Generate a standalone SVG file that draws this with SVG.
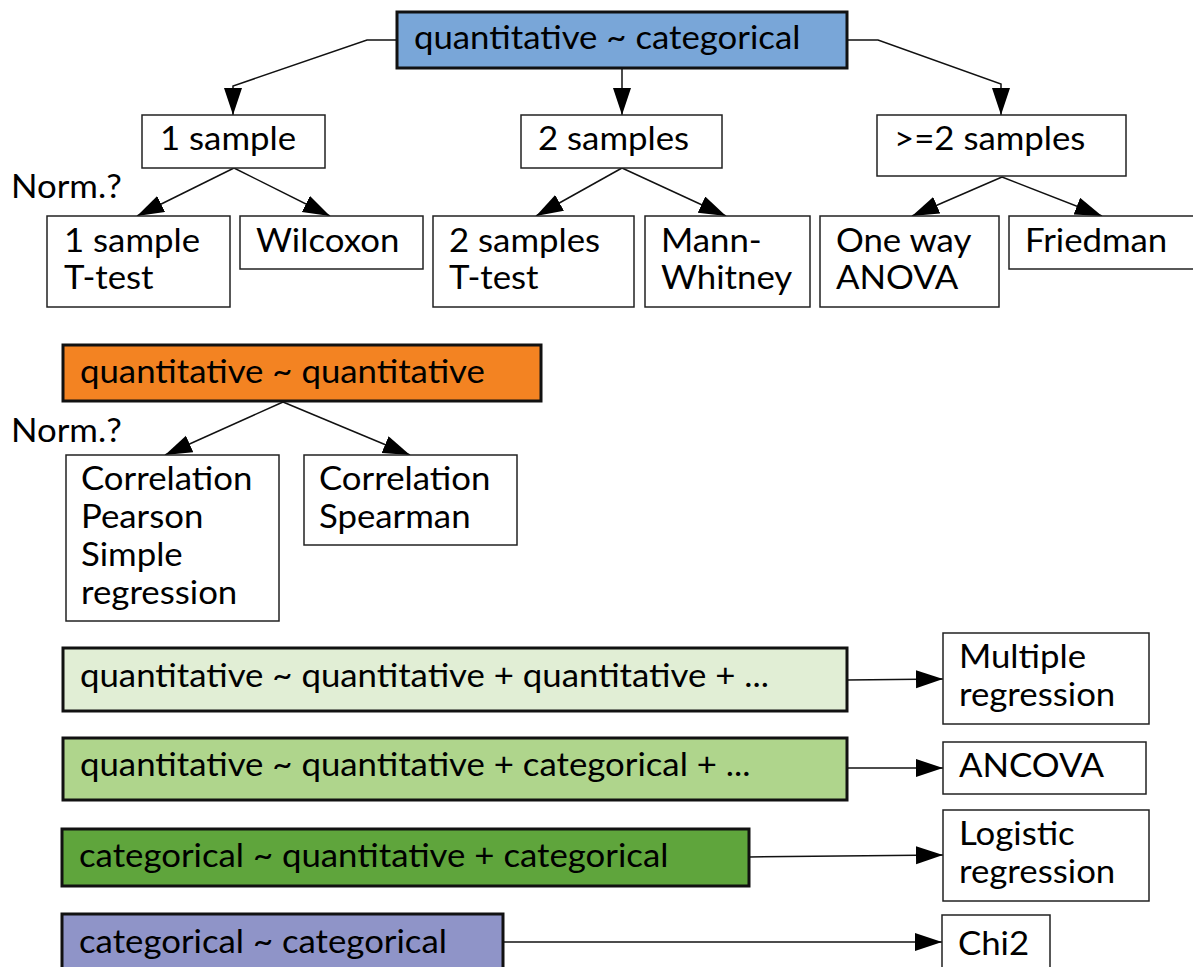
<svg xmlns="http://www.w3.org/2000/svg" width="1193" height="967" viewBox="0 0 1193 967">
<style>
text{font-family:Lato,"Open Sans","Liberation Sans",sans-serif;font-size:32px;fill:#000;transform-box:fill-box;transform-origin:0 0;transform:scaleX(1.087)}
.b{fill:#fff;stroke:#222;stroke-width:1.5}
.h{stroke:#111;stroke-width:3}
.c{fill:none;stroke:#111;stroke-width:1.5;marker-end:url(#a)}
</style>
<defs>
<marker id="a" markerUnits="userSpaceOnUse" markerWidth="28" markerHeight="20" refX="27" refY="9" orient="auto">
<path d="M0,0L27,9L0,18Z" fill="#000"/>
</marker>
</defs>
<g id="connectors">
<path class="c" d="M397,40H367L233,86V115"/>
<path class="c" d="M622,68V115"/>
<path class="c" d="M847,40H878L1001,84V115"/>
<path class="c" d="M234,168L137,216"/>
<path class="c" d="M234,168L330,216"/>
<path class="c" d="M622,168L536,216"/>
<path class="c" d="M622,168L726,216"/>
<path class="c" d="M1002,177L912,216"/>
<path class="c" d="M1002,177L1102,216"/>
<path class="c" d="M283,402L165,455"/>
<path class="c" d="M283,402L410,455"/>
<path class="c" d="M847,680L943,679"/>
<path class="c" d="M847,768L943,768"/>
<path class="c" d="M749,857L943,855"/>
<path class="c" d="M503,942L942,942"/>
</g>
<g id="n-qc"><rect class="h" x="397" y="12" width="450" height="56" fill="#79a6d8"/><text x="414" y="49">quantitative ~ categorical</text></g>
<g id="n-1s"><rect class="b" x="142" y="115" width="183" height="53"/><text x="160" y="150">1 sample</text></g>
<g id="n-2s"><rect class="b" x="521" y="115" width="201" height="53"/><text x="538" y="150">2 samples</text></g>
<g id="n-ge2"><rect class="b" x="877" y="115" width="249" height="61"/><text x="894" y="150">&gt;=2 samples</text></g>
<text x="11" y="198">Norm.?</text>
<g id="n-1t"><rect class="b" x="47" y="216" width="183" height="91"/><text x="64" y="252">1 sample</text><text x="64" y="289">T-test</text></g>
<g id="n-wil"><rect class="b" x="240" y="216" width="183" height="53"/><text x="256" y="252">Wilcoxon</text></g>
<g id="n-2t"><rect class="b" x="433" y="216" width="201" height="91"/><text x="449" y="252">2 samples</text><text x="449" y="289">T-test</text></g>
<g id="n-mw"><rect class="b" x="645" y="216" width="165" height="91"/><text x="661" y="252">Mann-</text><text x="661" y="289">Whitney</text></g>
<g id="n-anova"><rect class="b" x="820" y="216" width="179" height="91"/><text x="836" y="252">One way</text><text x="836" y="289">ANOVA</text></g>
<g id="n-fried"><rect class="b" x="1009" y="216" width="190" height="53"/><text x="1025" y="252">Friedman</text></g>
<g id="n-qq"><rect class="h" x="63" y="345" width="478" height="56" fill="#f38322"/><text x="80" y="383">quantitative ~ quantitative</text></g>
<text x="11" y="442">Norm.?</text>
<g id="n-pear"><rect class="b" x="66" y="455" width="213" height="166"/><text x="81" y="490">Correlation</text><text x="81" y="528">Pearson</text><text x="81" y="566">Simple</text><text x="81" y="604">regression</text></g>
<g id="n-spear"><rect class="b" x="304" y="455" width="213" height="90"/><text x="319" y="490">Correlation</text><text x="319" y="528">Spearman</text></g>
<g id="n-qqq"><rect class="h" x="63" y="648" width="784" height="63" fill="#e1eed5"/><text x="80" y="687">quantitative ~ quantitative + quantitative + ...</text></g>
<g id="n-qqc"><rect class="h" x="63" y="738" width="784" height="62" fill="#afd58c"/><text x="80" y="776">quantitative ~ quantitative + categorical + ...</text></g>
<g id="n-cqc"><rect class="h" x="62" y="829" width="687" height="57" fill="#5fa53c"/><text x="79" y="867">categorical ~ quantitative + categorical</text></g>
<g id="n-cc"><rect class="h" x="62" y="914" width="441" height="60" fill="#8f94c8"/><text x="79" y="953">categorical ~ categorical</text></g>
<g id="n-mr"><rect class="b" x="943" y="633" width="206" height="91"/><text x="959" y="668">Multiple</text><text x="959" y="706">regression</text></g>
<g id="n-ancova"><rect class="b" x="943" y="742" width="203" height="52"/><text x="959" y="777">ANCOVA</text></g>
<g id="n-log"><rect class="b" x="943" y="810" width="206" height="91"/><text x="959" y="845">Logistic</text><text x="959" y="883">regression</text></g>
<g id="n-chi"><rect class="b" x="942" y="915" width="108" height="60"/><text x="958" y="955">Chi2</text></g>
</svg>
